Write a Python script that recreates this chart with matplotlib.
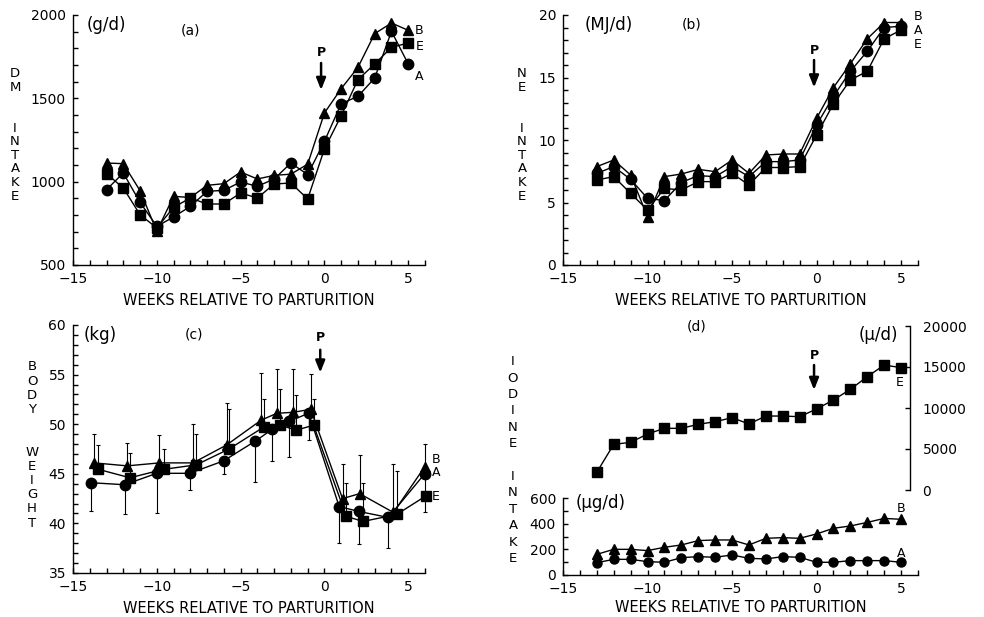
import matplotlib.pyplot as plt
from matplotlib.ticker import MultipleLocator

plt.rcParams["font.family"] = "DejaVu Sans"

# weeks relative to parturition (panels a, b, d)
weeks = list(range(-13, 6))

# (a) DM intake, g/d
dm_B = [1112, 1108, 946, 702, 912, 905, 978, 988, 1058, 1016, 1038, 1045, 1105,
        1412, 1558, 1686, 1888, 1952, 1908]
dm_A = [952, 1052, 876, 732, 788, 852, 942, 948, 998, 972, 1016, 1112, 1042,
        1242, 1468, 1512, 1622, 1902, 1706]
dm_E = [1048, 962, 802, 722, 846, 902, 866, 866, 932, 902, 986, 992, 896,
        1196, 1396, 1612, 1706, 1806, 1832]

# (b) NE intake, MJ/d
ne_B = [7.87, 8.4, 7.2, 3.87, 7.07, 7.28, 7.65, 7.47, 8.4, 7.33, 8.8, 8.88, 8.88,
        11.73, 14.2, 16.1, 18.1, 19.4, 19.4]
ne_A = [7.33, 7.87, 6.85, 5.33, 5.15, 6.6, 7.15, 7.07, 7.87, 7.07, 8.27, 8.27, 8.4,
        11.2, 13.5, 15.5, 17.1, 19.0, 19.1]
ne_E = [6.8, 7.07, 5.73, 4.4, 6.13, 6.0, 6.67, 6.67, 7.33, 6.4, 7.8, 7.8, 7.87,
        10.4, 12.9, 14.8, 15.5, 18.1, 18.8]

# (c) body weight, kg (weighing days differ slightly per group)
bw_week_A = [-13.92, -11.92, -10.0, -8.04, -6.02, -4.12, -3.1, -2.1, -0.94,
             0.88, 2.06, 3.82, 5.98]
bw_week_B = [-13.73, -11.76, -9.84, -7.84, -5.84, -3.78, -2.84, -1.86, -0.82,
             1.08, 2.1, 4.12, 5.98]
bw_week_E = [-13.49, -11.6, -9.6, -7.65, -5.69, -3.63, -2.65, -1.67, -0.65,
             1.31, 2.31, 4.31, 6.08]
bw_A = [44.1, 43.9, 45.05, 45.05, 46.3, 48.3, 49.5, 50.3, 51.1, 41.7, 41.2, 40.6, 45.0]
bw_B = [46.1, 45.8, 46.1, 46.1, 47.9, 50.4, 51.1, 51.2, 51.5, 42.5, 43.0, 41.1, 45.7]
bw_E = [45.45, 44.6, 45.45, 45.9, 47.5, 49.7, 49.9, 49.4, 49.9, 40.7, 40.2, 40.9, 42.8]
# error bar ends (A drawn downwards, B and E upwards)
bw_A_low = [41.25, 40.98, 41.08, 43.37, 44.95, 44.2, 46.3, 46.7, 48.4, 38.0, 37.9, 37.5, 41.1]
bw_B_high = [49.06, 48.08, 48.89, 50.0, 52.12, 55.2, 55.6, 55.6, 55.1, 46.0, 46.9, 46.0, 48.0]
bw_E_high = [47.88, 47.07, 47.54, 49.06, 51.52, 52.5, 53.5, 52.95, 52.5, 44.1, 44.1, 45.3, 42.8]

# (d) iodine intake
io_E = [2160, 5570, 5810, 6830, 7520, 7520, 8010, 8330, 8820, 8050, 9020, 9020, 8940,
        9880, 10980, 12280, 13820, 15240, 14920]  # µ/d
io_B = [161, 200, 200, 190, 216, 234, 268, 273, 273, 234, 286, 291, 286,
        320, 364, 382, 410, 441, 434]  # µg/d
io_A = [96, 122, 122, 104, 99, 135, 143, 138, 156, 130, 125, 143, 138,
        99, 99, 112, 112, 112, 99]  # µg/d

XLABEL = "WEEKS RELATIVE TO PARTURITION"
W, H = 984, 617


def px_box(left, top, right, bottom):
    """Axes rectangle from pixel edges of the reference picture."""
    return [left / W, 1 - bottom / H, (right - left) / W, (bottom - top) / H]


def style_axes(ax, ymajor, yminor):
    for side in ("top", "right"):
        ax.spines[side].set_visible(False)
    for side in ("left", "bottom"):
        ax.spines[side].set_linewidth(1.0)
    ax.set_xlim(-15, 6)
    ax.xaxis.set_major_locator(MultipleLocator(5))
    ax.xaxis.set_minor_locator(MultipleLocator(1))
    ax.yaxis.set_major_locator(MultipleLocator(ymajor))
    ax.yaxis.set_minor_locator(MultipleLocator(yminor))
    ax.tick_params(which="both", direction="in", length=3.5, width=1.0,
                   labelsize=10, top=False, right=False)
    ax.tick_params(axis="x", pad=5)
    ax.tick_params(axis="y", pad=5)


def mark_p(ax, x, y_text, y_top, y_tip):
    ax.text(x, y_text, "P", ha="center", va="center", fontsize=9, fontweight="bold")
    ax.annotate("", xy=(x, y_tip), xytext=(x, y_top),
                arrowprops=dict(arrowstyle="-|>,head_length=0.7,head_width=0.28",
                                color="black", lw=1.8, shrinkA=0, shrinkB=0))


def stacked(x, y, word, spacing):
    fig.text(x / W, 1 - y / H, "\n".join(word), ha="center", va="center",
             fontsize=9.5, linespacing=spacing)


line_kw = dict(color="black", lw=1.0, markersize=7.5, clip_on=False)

fig = plt.figure(figsize=(W / 100, H / 100), dpi=100)

# %% (a) DM intake
ax = fig.add_axes(px_box(73, 15, 425, 265))
style_axes(ax, 500, 100)
ax.set_ylim(500, 2000)
ax.plot(weeks, dm_A, marker="o", **line_kw)
ax.plot(weeks, dm_E, marker="s", **{**line_kw, "markersize": 7})
ax.plot(weeks, dm_B, marker="^", **line_kw)
ax.text(-13.0, 1942, "(g/d)", fontsize=12, ha="center", va="center")
ax.text(-8.0, 1905, "(a)", fontsize=10, ha="center", va="center")
for lab, yv in (("B", 1906), ("E", 1808), ("A", 1632)):
    ax.text(5.67, yv, lab, fontsize=9, ha="center", va="center")
mark_p(ax, -0.2, 1778, 1712, 1550)
ax.set_xlabel(XLABEL, fontsize=10.5, labelpad=5)
stacked(15, 135, "DM  INTAKE", 1.06)

# %% (b) NE intake
ax = fig.add_axes(px_box(563, 15, 918, 265))
style_axes(ax, 5, 1)
ax.set_ylim(0, 20)
ax.plot(weeks, ne_A, marker="o", **line_kw)
ax.plot(weeks, ne_E, marker="s", **{**line_kw, "markersize": 7})
ax.plot(weeks, ne_B, marker="^", **line_kw)
ax.text(-12.3, 19.2, "(MJ/d)", fontsize=12, ha="center", va="center")
ax.text(-7.4, 19.2, "(b)", fontsize=10, ha="center", va="center")
for lab, yv in (("B", 19.9), ("A", 18.8), ("E", 17.6)):
    ax.text(6.0, yv, lab, fontsize=9, ha="center", va="center")
mark_p(ax, -0.15, 17.2, 16.4, 14.2)
ax.set_xlabel(XLABEL, fontsize=10.5, labelpad=5)
stacked(522, 135, "NE  INTAKE", 1.06)

# %% (c) body weight
ax = fig.add_axes(px_box(73, 325, 425, 573))
style_axes(ax, 5, 1)
ax.set_ylim(35, 60)
err_kw = dict(fmt="none", ecolor="black", elinewidth=0.8, capsize=1.5,
              capthick=0.8, clip_on=False)
zeros = [0] * len(bw_A)
ax.errorbar(bw_week_A, bw_A, yerr=[[m - lo for m, lo in zip(bw_A, bw_A_low)], zeros], **err_kw)
ax.errorbar(bw_week_B, bw_B, yerr=[zeros, [hi - m for m, hi in zip(bw_B, bw_B_high)]], **err_kw)
ax.errorbar(bw_week_E, bw_E, yerr=[zeros, [hi - m for m, hi in zip(bw_E, bw_E_high)]], **err_kw)
ax.plot(bw_week_A, bw_A, marker="o", **line_kw)
ax.plot(bw_week_E, bw_E, marker="s", **{**line_kw, "markersize": 7})
ax.plot(bw_week_B, bw_B, marker="^", **line_kw)
ax.text(-13.35, 59.0, "(kg)", fontsize=12, ha="center", va="center")
ax.text(-7.8, 59.0, "(c)", fontsize=10, ha="center", va="center")
for lab, yv in (("B", 46.4), ("A", 45.1), ("E", 42.7)):
    ax.text(6.65, yv, lab, fontsize=9, ha="center", va="center")
mark_p(ax, -0.25, 58.7, 57.5, 55.2)
ax.set_xlabel(XLABEL, fontsize=10.5, labelpad=5)
stacked(32, 445, "BODY  WEIGHT", 1.12)

# %% (d) iodine intake, lower part (µg/d)
ax = fig.add_axes(px_box(563, 498, 918, 575))
style_axes(ax, 200, 100)
ax.set_ylim(0, 600)
ax.plot(weeks, io_A, marker="o", **{**line_kw, "markersize": 6.5})
ax.plot(weeks, io_B, marker="^", **{**line_kw, "markersize": 6.5})
ax.text(-12.8, 561, "(µg/d)", fontsize=12, ha="center", va="center")
ax.text(5.0, 522, "B", fontsize=9, ha="center", va="center")
ax.text(5.0, 171, "A", fontsize=9, ha="center", va="center")
ax.set_xlabel(XLABEL, fontsize=10.5, labelpad=3)
stacked(513, 460, "IODINE INTAKE", 1.34)

# upper part (µ/d), same x scale, right axis only
top_right = 910
ax2 = fig.add_axes(px_box(563, 326, top_right, 490))
ax2.patch.set_visible(False)
for side in ("left", "top", "bottom"):
    ax2.spines[side].set_visible(False)
ax2.spines["right"].set_linewidth(1.0)
ax2.set_xlim(-15, -15 + 21 * (top_right - 563) / (918 - 563))
ax2.set_ylim(0, 20000)
ax2.set_xticks([])
ax2.yaxis.set_major_locator(MultipleLocator(5000))
ax2.yaxis.tick_right()
ax2.tick_params(axis="y", direction="in", length=3.5, width=1.0, labelsize=10, pad=9)
ax2.plot(weeks, io_E, marker="s", **{**line_kw, "markersize": 6.5})
ax2.text(3.64, 18900, "(µ/d)", fontsize=12, ha="center", va="center")
ax2.text(-7.1, 19900, "(d)", fontsize=10, ha="center", va="center")
ax2.text(4.94, 13090, "E", fontsize=9, ha="center", va="center")
mark_p(ax2, -0.15, 16460, 15240, 12200)

fig.savefig("out.png", dpi=100)
